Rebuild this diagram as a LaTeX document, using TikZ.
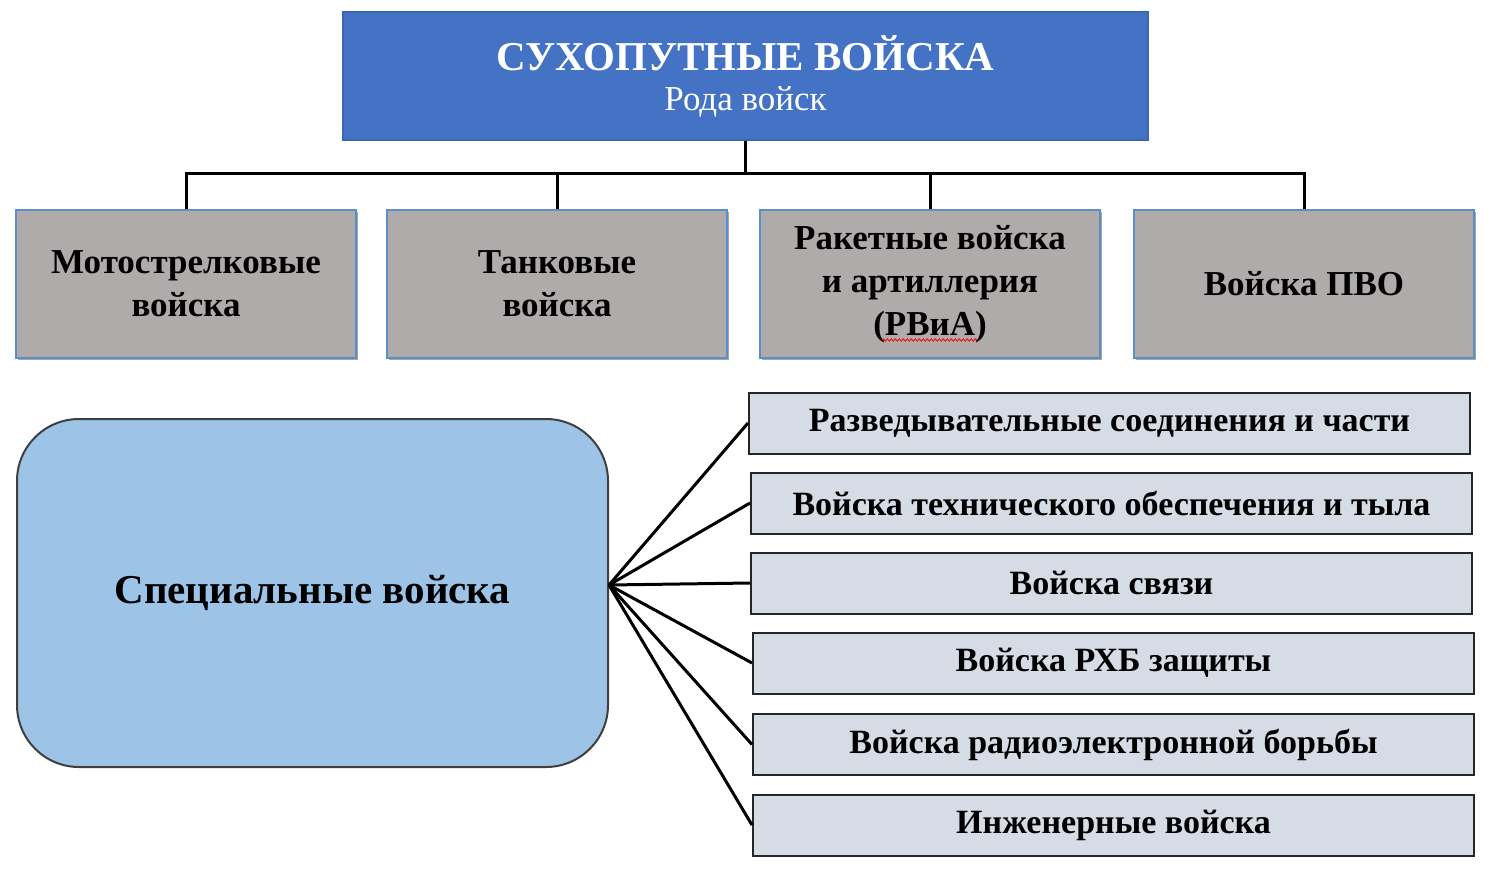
\documentclass[tikz,border=0pt]{standalone}
\usepackage{fontspec}
\setmainfont{Liberation Serif}
\usetikzlibrary{shadows,decorations.pathmorphing,calc}
\definecolor{topblue}{HTML}{4472C4}
\definecolor{topborder}{HTML}{3A66B5}
\definecolor{grayfill}{HTML}{AFABAB}
\definecolor{grayborder}{HTML}{5B8FC9}
\definecolor{specfill}{HTML}{9DC3E6}
\definecolor{specborder}{HTML}{3F3F3F}
\definecolor{listfill}{HTML}{D6DCE5}
\definecolor{listborder}{HTML}{262626}
\begin{document}
\begin{tikzpicture}[x=1pt,y=-1pt,
  topbox/.style={draw=topborder,line width=1.5pt,fill=topblue,minimum width=805pt,minimum height=128pt,inner sep=0pt,align=center,text=white},
  kindbox/.style={draw=grayborder,line width=1.5pt,fill=grayfill,minimum width=340pt,minimum height=148pt,inner sep=0pt,align=center,
    font=\fontsize{35}{43}\selectfont\bfseries,drop shadow={shadow xshift=1.5pt,shadow yshift=-1.5pt,opacity=0.35,fill=black}},
  specbox/.style={draw=specborder,line width=2pt,fill=specfill,rounded corners=62pt,minimum width=591pt,minimum height=348pt,inner sep=0pt,
    font=\fontsize{41}{44}\selectfont\bfseries},
  listbox/.style={draw=listborder,line width=2pt,fill=listfill,minimum width=721pt,minimum height=61pt,inner sep=0pt,
    font=\fontsize{34}{38}\selectfont\bfseries,drop shadow={shadow xshift=1.2pt,shadow yshift=-1.2pt,opacity=0.3,fill=black}},
  link/.style={line width=3pt,black},
  fan/.style={line width=3pt,black}]
\useasboundingbox (0,0) rectangle (1500,886);

\node[topbox,font=\fontsize{35}{40}\selectfont] (top) at (745.5,76) {{\fontsize{41}{40}\selectfont\bfseries СУХОПУТНЫЕ ВОЙСКА}\\Рода войск};

\node[kindbox] (k1) at (186,284) {Мотострелковые\\войска};
\node[kindbox] (k2) at (557,284) {Танковые\\войска};
\node[kindbox] (k3) at (930,284) {Ракетные войска\\и артиллерия\\(РВиА)};
\node[kindbox] (k4) at (1304,284) {Войска ПВО};

\draw[red,line width=0.8pt,decorate,decoration={snake,amplitude=1.2pt,segment length=4pt}]
  ($(k3.center)+(-48,56)$) -- ($(k3.center)+(48,56)$);

\coordinate (bus) at (745,173);
\draw[link] (top.south) -- (top.south |- bus);
\draw[link] (k1.north) -- (k1.north |- bus) -- (k4.north |- bus) -- (k4.north);
\draw[link] (k2.north) -- (k2.north |- bus);
\draw[link] (k3.north) -- (k3.north |- bus);

\node[specbox] (spec) at (312.5,593) {Специальные войска};

\node[listbox] (r1) at (1109.5,423) {Разведывательные соединения и части};
\node[listbox] (r2) at (1111.5,503) {Войска технического обеспечения и тыла};
\node[listbox] (r3) at (1111.5,583) {Войска связи};
\node[listbox] (r4) at (1113.5,663) {Войска РХБ защиты};
\node[listbox] (r5) at (1113.5,744.5) {Войска радиоэлектронной борьбы};
\node[listbox] (r6) at (1113.5,825) {Инженерные войска};

\coordinate (hub) at ($(spec.east)+(0,-8)$);
\foreach \r in {r1,r2,r3,r4,r5,r6}{
  \draw[fan] (hub) -- (\r.west);
}
\end{tikzpicture}
\end{document}
